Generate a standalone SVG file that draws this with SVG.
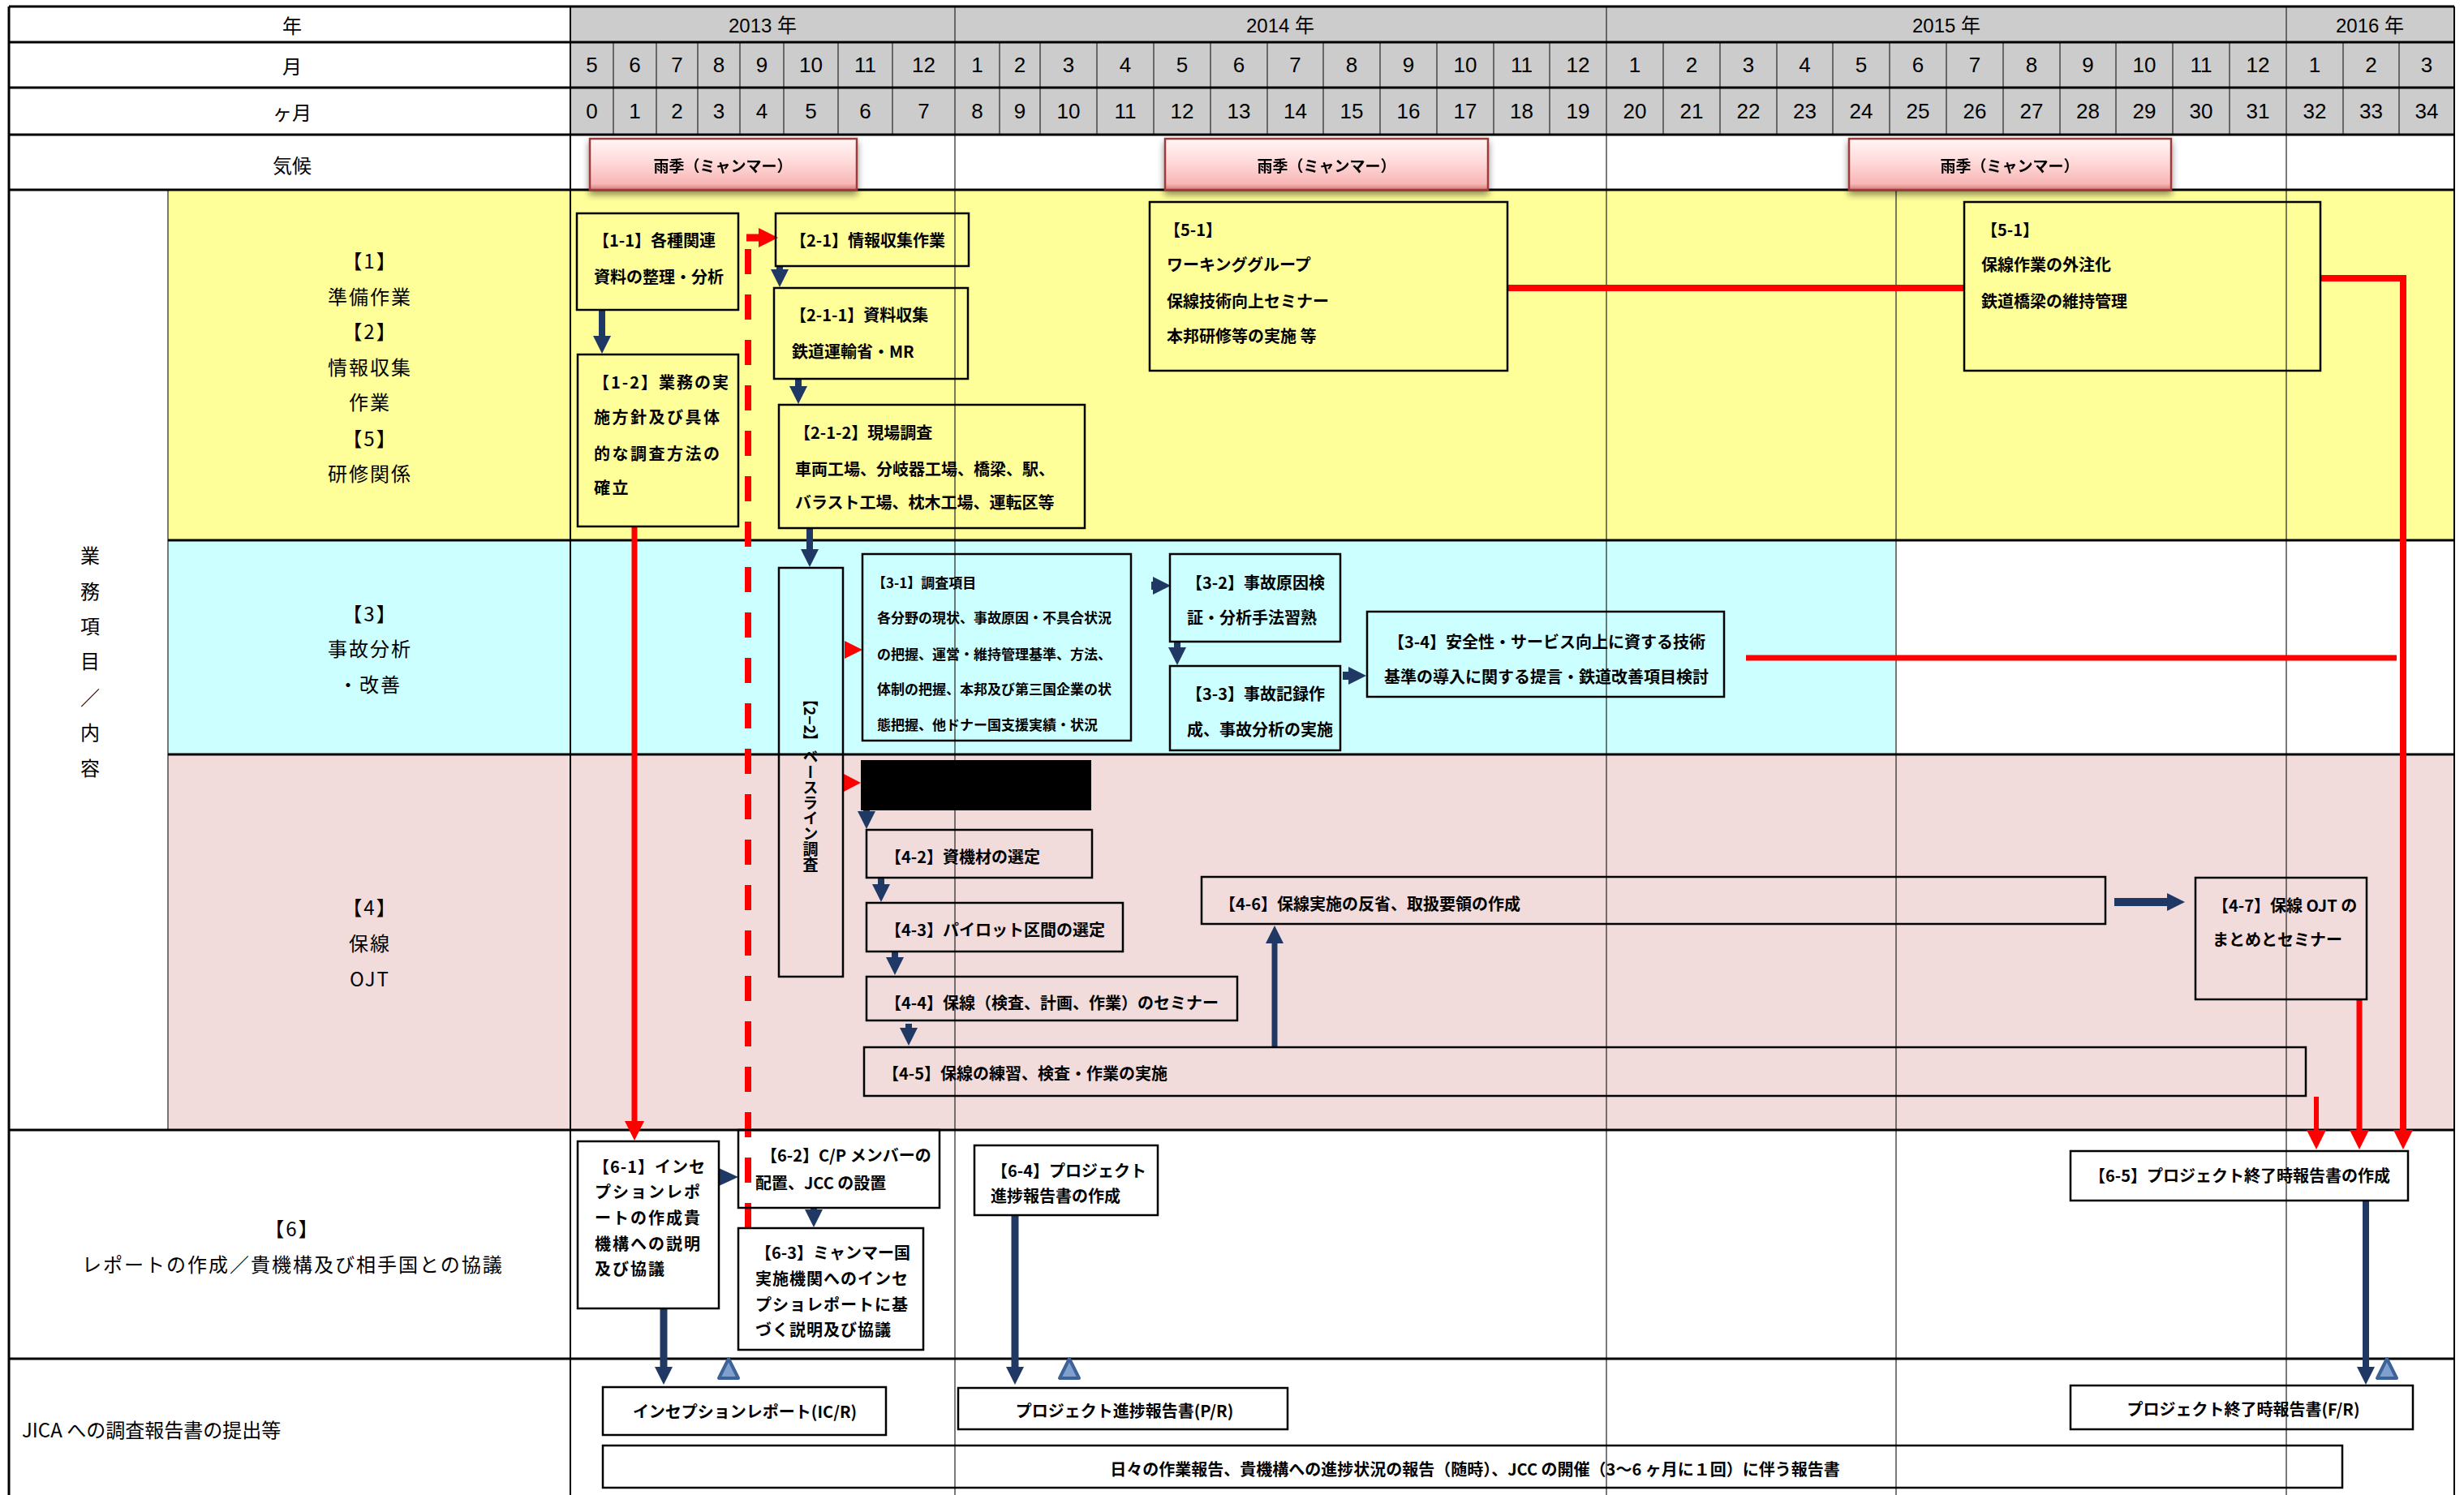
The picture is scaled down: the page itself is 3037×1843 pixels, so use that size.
<svg xmlns="http://www.w3.org/2000/svg" width="3037" height="1843" viewBox="0 0 3037 1843">
<style>
.j{font-family:"Noto Sans CJK JP","Noto Sans CJK SC",sans-serif;fill:#000}
.bt{font-size:20px;dominant-baseline:central;font-weight:600}
.st{font-size:17px;dominant-baseline:central;font-weight:600}
.lb{font-size:24px;text-anchor:middle;dominant-baseline:central;letter-spacing:2px}
.hd{font-size:24px;text-anchor:middle;dominant-baseline:central}
.num{font-family:"Liberation Sans","Noto Sans CJK JP",sans-serif;font-size:26px;text-anchor:middle;dominant-baseline:central;fill:#000}
.rt{font-size:19px;text-anchor:middle;dominant-baseline:central;font-weight:600}
.ct{font-size:20px;text-anchor:middle;dominant-baseline:central;font-weight:600}
.bx{fill:none;stroke:#000;stroke-width:2.5}
.thk{stroke:#000;stroke-width:3;fill:none}
.thn{stroke:#333;stroke-width:1.3;fill:none}
.nv{stroke:#1F3864;fill:none;marker-end:url(#an)}
.rd{stroke:#FF0000;fill:none}
.rain{fill:url(#rg);stroke:#9E3B3B;stroke-width:2.5}
.ms{fill:#7FA0CF;stroke:#3C6296;stroke-width:4;stroke-linejoin:round}
</style>
<defs>
<linearGradient id="rg" x1="0" y1="0" x2="0" y2="1">
<stop offset="0" stop-color="#FFF6F6"/><stop offset="0.45" stop-color="#FFDADA"/><stop offset="0.88" stop-color="#F8B6B6"/><stop offset="1" stop-color="#D47A7A"/>
</linearGradient>
<filter id="sh" x="-10%" y="-30%" width="120%" height="170%">
<feGaussianBlur in="SourceAlpha" stdDeviation="4"/><feOffset dy="5"/>
<feComponentTransfer><feFuncA type="linear" slope="0.45"/></feComponentTransfer>
<feMerge><feMergeNode/><feMergeNode in="SourceGraphic"/></feMerge>
</filter>
<marker id="an" viewBox="0 0 22 22" markerUnits="userSpaceOnUse" markerWidth="22" markerHeight="22" refX="1" refY="11" orient="auto"><path d="M0,0 L22,11 L0,22 z" fill="#1F3864"/></marker>
<marker id="ar" viewBox="0 0 24 24" markerUnits="userSpaceOnUse" markerWidth="24" markerHeight="24" refX="1" refY="12" orient="auto"><path d="M0,0 L24,12 L0,24 z" fill="#FF0000"/></marker>
</defs>

<g id="backgrounds">
<rect x="0" y="0" width="3037" height="1843" fill="#FFFFFF"/>
<rect x="703" y="8" width="2322" height="158" fill="#CCCCCC"/>
<rect x="207" y="234" width="2818" height="432" fill="#FFFF99"/>
<rect x="207" y="666" width="2130" height="264" fill="#CCFFFF"/>
<rect x="207" y="930" width="2818" height="463" fill="#F2DCDB"/>
</g>

<g id="grid">
<path class="thn" d="M756,52V166 M809,52V166 M860,52V166 M912,52V166 M966,52V166 M1033,52V166 M1100,52V166 M1232,52V166 M1282,52V166 M1352,52V166 M1422,52V166 M1492,52V166 M1562,52V166 M1631,52V166 M1701,52V166 M1771,52V166 M1841,52V166 M1910,52V166 M2050,52V166 M2120,52V166 M2190,52V166 M2259,52V166 M2329,52V166 M2399,52V166 M2469,52V166 M2539,52V166 M2608,52V166 M2678,52V166 M2748,52V166 M2888,52V166 M2957,52V166"/>
<path class="thn" d="M1177,8V1843 M1980,8V1843 M2818,8V1843 M2337,234V1843 M207,234V1393"/>
<path stroke="#000" stroke-width="2" fill="none" d="M703,8V1843 M3025,8V1843"/>
<path class="thk" d="M11,8V1843 M11,8H3025 M11,52H3025 M11,108H3025 M11,166H3025 M11,234H3025 M207,666H3025 M207,930H3025 M11,1393H3025 M11,1675H3025"/>
</g>

<g id="header-text">
<text class="j hd" x="360" y="30">年</text>
<text class="j hd" x="360" y="80">月</text>
<text class="j hd" x="360" y="137">ヶ月</text>
<text class="j hd" x="360" y="202">気候</text>
<text class="num" x="940" y="31" style="font-size:24px">2013 年</text>
<text class="num" x="1578" y="31" style="font-size:24px">2014 年</text>
<text class="num" x="2399" y="31" style="font-size:24px">2015 年</text>
<text class="num" x="2921" y="31" style="font-size:24px">2016 年</text>
<g id="months">
<text class="num" x="729.5" y="80">5</text><text class="num" x="782.5" y="80">6</text><text class="num" x="834.5" y="80">7</text><text class="num" x="886" y="80">8</text><text class="num" x="939" y="80">9</text><text class="num" x="999.5" y="80">10</text><text class="num" x="1066.5" y="80">11</text><text class="num" x="1138.5" y="80">12</text>
<text class="num" x="1204.5" y="80">1</text><text class="num" x="1257" y="80">2</text><text class="num" x="1317" y="80">3</text><text class="num" x="1387" y="80">4</text><text class="num" x="1457" y="80">5</text><text class="num" x="1527" y="80">6</text><text class="num" x="1596.5" y="80">7</text><text class="num" x="1666" y="80">8</text><text class="num" x="1736" y="80">9</text><text class="num" x="1806" y="80">10</text><text class="num" x="1875.5" y="80">11</text><text class="num" x="1945" y="80">12</text>
<text class="num" x="2015" y="80">1</text><text class="num" x="2085" y="80">2</text><text class="num" x="2155" y="80">3</text><text class="num" x="2224.5" y="80">4</text><text class="num" x="2294" y="80">5</text><text class="num" x="2364" y="80">6</text><text class="num" x="2434" y="80">7</text><text class="num" x="2504" y="80">8</text><text class="num" x="2573.5" y="80">9</text><text class="num" x="2643" y="80">10</text><text class="num" x="2713" y="80">11</text><text class="num" x="2783" y="80">12</text>
<text class="num" x="2853" y="80">1</text><text class="num" x="2922.5" y="80">2</text><text class="num" x="2991" y="80">3</text>
</g>
<g id="month-count">
<text class="num" x="729.5" y="137">0</text><text class="num" x="782.5" y="137">1</text><text class="num" x="834.5" y="137">2</text><text class="num" x="886" y="137">3</text><text class="num" x="939" y="137">4</text><text class="num" x="999.5" y="137">5</text><text class="num" x="1066.5" y="137">6</text><text class="num" x="1138.5" y="137">7</text>
<text class="num" x="1204.5" y="137">8</text><text class="num" x="1257" y="137">9</text><text class="num" x="1317" y="137">10</text><text class="num" x="1387" y="137">11</text><text class="num" x="1457" y="137">12</text><text class="num" x="1527" y="137">13</text><text class="num" x="1596.5" y="137">14</text><text class="num" x="1666" y="137">15</text><text class="num" x="1736" y="137">16</text><text class="num" x="1806" y="137">17</text><text class="num" x="1875.5" y="137">18</text><text class="num" x="1945" y="137">19</text>
<text class="num" x="2015" y="137">20</text><text class="num" x="2085" y="137">21</text><text class="num" x="2155" y="137">22</text><text class="num" x="2224.5" y="137">23</text><text class="num" x="2294" y="137">24</text><text class="num" x="2364" y="137">25</text><text class="num" x="2434" y="137">26</text><text class="num" x="2504" y="137">27</text><text class="num" x="2573.5" y="137">28</text><text class="num" x="2643" y="137">29</text><text class="num" x="2713" y="137">30</text><text class="num" x="2783" y="137">31</text>
<text class="num" x="2853" y="137">32</text><text class="num" x="2922.5" y="137">33</text><text class="num" x="2991" y="137">34</text>
</g>
</g>

<g id="row-labels">
<text class="j lb" x="456" y="320">【1】</text>
<text class="j lb" x="456" y="364">準備作業</text>
<text class="j lb" x="456" y="407">【2】</text>
<text class="j lb" x="456" y="451">情報収集</text>
<text class="j lb" x="456" y="494">作業</text>
<text class="j lb" x="456" y="539">【5】</text>
<text class="j lb" x="456" y="582">研修関係</text>
<text class="j lb" x="112" y="683">業</text>
<text class="j lb" x="112" y="727">務</text>
<text class="j lb" x="112" y="770">項</text>
<text class="j lb" x="112" y="813">目</text>
<text class="j lb" x="112" y="858">／</text>
<text class="j lb" x="112" y="901">内</text>
<text class="j lb" x="112" y="945">容</text>
<text class="j lb" x="456" y="755">【3】</text>
<text class="j lb" x="456" y="798">事故分析</text>
<text class="j lb" x="456" y="842">・改善</text>
<text class="j lb" x="456" y="1117">【4】</text>
<text class="j lb" x="456" y="1161">保線</text>
<text class="j lb" x="456" y="1205">OJT</text>
<text class="j lb" x="360" y="1513">【6】</text>
<text class="j lb" x="361" y="1557">レポートの作成／貴機構及び相手国との協議</text>
<text class="j" x="27" y="1761" style="font-size:24px;dominant-baseline:central">JICA への調査報告書の提出等</text>
</g>

<g id="rain-seasons">
<g id="rain1" filter="url(#sh)"><rect class="rain" x="727" y="171" width="329" height="63"/><text class="j rt" x="891" y="203">雨季（ミャンマー）</text></g>
<g id="rain2" filter="url(#sh)"><rect class="rain" x="1436" y="171" width="398" height="63"/><text class="j rt" x="1635" y="203">雨季（ミャンマー）</text></g>
<g id="rain3" filter="url(#sh)"><rect class="rain" x="2279" y="171" width="397" height="63"/><text class="j rt" x="2477" y="203">雨季（ミャンマー）</text></g>
</g>

<g id="connectors">
<path class="nv" stroke-width="8" d="M742,382V415"/>
<path class="nv" stroke-width="8" d="M961,328V333"/>
<path class="nv" stroke-width="8" d="M984,467V477"/>
<path class="nv" stroke-width="8" d="M998,651V678"/>
<path class="nv" stroke-width="10" d="M1419,722H1422"/>
<path class="nv" stroke-width="8" d="M1451,791V799"/>
<path class="nv" stroke-width="10" d="M1655,833H1663"/>
<path class="nv" stroke-width="8" d="M1068,998V1001"/>
<path class="nv" stroke-width="8" d="M1086,1083V1091"/>
<path class="nv" stroke-width="8" d="M1103,1173V1181"/>
<path class="nv" stroke-width="8" d="M1120,1262V1268"/>
<path class="nv" stroke-width="7" d="M1571,1290V1162"/>
<path class="nv" stroke-width="10" d="M2606,1112H2672"/>
<polygon points="886,1440 910,1451 886,1462" fill="#1F3864"/>
<path class="nv" stroke-width="8" d="M1003,1488V1492"/>
<path class="nv" stroke-width="9" d="M818,1613V1686"/>
<path class="nv" stroke-width="9" d="M1251,1498V1686"/>
<path class="nv" stroke-width="8" d="M2916,1480V1686"/>
<path class="rd" stroke-width="7" marker-end="url(#ar)" d="M782,649V1383"/>
<path class="rd" stroke-width="8" stroke-dasharray="31 25" d="M922,307V1514"/>
<path class="rd" stroke-width="9" marker-end="url(#ar)" d="M920,293H936"/>
<polygon points="1041,790 1063,801 1041,812" fill="#FF0000"/>
<polygon points="1038,953 1061,965 1038,977" fill="#FF0000"/>
<path class="rd" stroke-width="7" d="M2152,811H2954"/>
<path class="rd" stroke-width="8" d="M1858,355H2421"/>
<path class="rd" stroke-width="8" marker-end="url(#ar)" d="M2860,343H2962V1394"/>
<path class="rd" stroke-width="7" marker-end="url(#ar)" d="M2908,1232V1394"/>
<path class="rd" stroke-width="6" marker-end="url(#ar)" d="M2855,1352V1394"/>
<polygon class="ms" points="898,1675 886,1699 910,1699"/>
<polygon class="ms" points="1318,1675 1306,1699 1330,1699"/>
<polygon class="ms" points="2942,1675 2930,1699 2954,1699"/>
</g>

<g id="n1-1"><rect class="bx" x="711" y="263" width="199" height="119"/>
<text class="j bt" x="731" y="295">【1-1】各種関連</text><text class="j bt" x="732" y="340">資料の整理・分析</text></g>
<g id="n1-2"><rect class="bx" x="712" y="437" width="198" height="212"/>
<text class="j bt" x="731" y="470" letter-spacing="2">【1-2】業務の実</text><text class="j bt" x="732" y="513" letter-spacing="2.5">施方針及び具体</text><text class="j bt" x="732" y="558" letter-spacing="2.5">的な調査方法の</text><text class="j bt" x="732" y="600" letter-spacing="2.5">確立</text></g>
<g id="n2-1"><rect class="bx" x="956" y="263" width="238" height="65"/>
<text class="j bt" x="974" y="295">【2-1】情報収集作業</text></g>
<g id="n2-1-1"><rect class="bx" x="954" y="355" width="239" height="112"/>
<text class="j bt" x="974" y="387">【2-1-1】資料収集</text><text class="j bt" x="976" y="432">鉄道運輸省・MR</text></g>
<g id="n2-1-2"><rect class="bx" x="960" y="499" width="377" height="152"/>
<text class="j bt" x="979" y="532">【2-1-2】現場調査</text><text class="j bt" x="980" y="577">車両工場、分岐器工場、橋梁、駅、</text><text class="j bt" x="980" y="618">バラスト工場、枕木工場、運転区等</text></g>
<g id="n2-2"><rect class="bx" x="960" y="700" width="79" height="504"/>
<text class="j" x="999" y="852" style="font-size:19px;font-weight:600;writing-mode:vertical-rl">【2−2】ベースライン調査</text></g>
<g id="n3-1"><rect class="bx" x="1063" y="683" width="331" height="230"/>
<text class="j st" x="1075" y="717">【3-1】調査項目</text><text class="j st" x="1081" y="760">各分野の現状、事故原因・不具合状況</text><text class="j st" x="1081" y="805">の把握、運営・維持管理基準、方法、</text><text class="j st" x="1081" y="848">体制の把握、本邦及び第三国企業の状</text><text class="j st" x="1081" y="892">態把握、他ドナー国支援実績・状況</text></g>
<g id="n3-2"><rect class="bx" x="1442" y="683" width="210" height="108"/>
<text class="j bt" x="1462" y="717">【3-2】事故原因検</text><text class="j bt" x="1463" y="760">証・分析手法習熟</text></g>
<g id="n3-3"><rect class="bx" x="1442" y="821" width="210" height="104"/>
<text class="j bt" x="1462" y="854">【3-3】事故記録作</text><text class="j bt" x="1463" y="898">成、事故分析の実施</text></g>
<g id="n3-4"><rect class="bx" x="1685" y="754" width="440" height="105"/>
<text class="j bt" x="1711" y="790">【3-4】安全性・サービス向上に資する技術</text><text class="j bt" x="1706" y="833">基準の導入に関する提言・鉄道改善項目検討</text></g>
<g id="n5-1a"><rect class="bx" x="1417" y="249" width="441" height="208"/>
<text class="j bt" x="1435" y="282">【5-1】</text><text class="j bt" x="1438" y="325">ワーキンググループ</text><text class="j bt" x="1438" y="370">保線技術向上セミナー</text><text class="j bt" x="1438" y="413">本邦研修等の実施 等</text></g>
<g id="n5-1b"><rect class="bx" x="2421" y="249" width="439" height="208"/>
<text class="j bt" x="2442" y="282">【5-1】</text><text class="j bt" x="2442" y="325">保線作業の外注化</text><text class="j bt" x="2442" y="370">鉄道橋梁の維持管理</text></g>
<g id="n4-1"><rect x="1062" y="938" width="282" height="60" fill="#000" stroke="#000" stroke-width="2"/></g>
<g id="n4-2"><rect class="bx" x="1068" y="1023" width="278" height="59"/>
<text class="j bt" x="1091" y="1055">【4-2】資機材の選定</text></g>
<g id="n4-3"><rect class="bx" x="1068" y="1113" width="316" height="60"/>
<text class="j bt" x="1091" y="1145">【4-3】パイロット区間の選定</text></g>
<g id="n4-4"><rect class="bx" x="1068" y="1204" width="457" height="54"/>
<text class="j bt" x="1091" y="1235">【4-4】保線（検査、計画、作業）のセミナー</text></g>
<g id="n4-5"><rect class="bx" x="1065" y="1291" width="1777" height="60"/>
<text class="j bt" x="1088" y="1322">【4-5】保線の練習、検査・作業の実施</text></g>
<g id="n4-6"><rect class="bx" x="1481" y="1081" width="1114" height="58"/>
<text class="j bt" x="1503" y="1113">【4-6】保線実施の反省、取扱要領の作成</text></g>
<g id="n4-7"><rect class="bx" x="2706" y="1082" width="211" height="150"/>
<text class="j bt" x="2727" y="1115">【4-7】保線 OJT の</text><text class="j bt" x="2727" y="1157">まとめとセミナー</text></g>
<g id="n6-1"><rect class="bx" x="712" y="1407" width="174" height="206"/>
<text class="j bt" x="731" y="1437" letter-spacing="1">【6-1】インセ</text><text class="j bt" x="733" y="1468" letter-spacing="2">プションレポ</text><text class="j bt" x="733" y="1500" letter-spacing="2">ートの作成貴</text><text class="j bt" x="733" y="1532" letter-spacing="2">機構への説明</text><text class="j bt" x="733" y="1563" letter-spacing="2">及び協議</text></g>
<g id="n6-2"><rect class="bx" x="910" y="1393" width="248" height="96"/>
<text class="j bt" x="938" y="1423">【6-2】C/P メンバーの</text><text class="j bt" x="931" y="1457">配置、JCC の設置</text></g>
<g id="n6-3"><rect class="bx" x="910" y="1514" width="228" height="150"/>
<text class="j bt" x="931" y="1543">【6-3】ミャンマー国</text><text class="j bt" x="931" y="1575" letter-spacing="1">実施機関へのインセ</text><text class="j bt" x="931" y="1607" letter-spacing="1">プショレポートに基</text><text class="j bt" x="931" y="1638" letter-spacing="1">づく説明及び協議</text></g>
<g id="n6-4"><rect class="bx" x="1201" y="1412" width="226" height="86"/>
<text class="j bt" x="1222" y="1442">【6-4】プロジェクト</text><text class="j bt" x="1221" y="1473">進捗報告書の作成</text></g>
<g id="n6-5"><rect class="bx" x="2552" y="1419" width="416" height="61"/>
<text class="j bt" x="2575" y="1448">【6-5】プロジェクト終了時報告書の作成</text></g>
<g id="n-icr"><rect class="bx" x="743" y="1710" width="349" height="59"/>
<text class="j ct" x="918" y="1739">インセプションレポート(IC/R)</text></g>
<g id="n-pr"><rect class="bx" x="1181" y="1711" width="406" height="51"/>
<text class="j ct" x="1386" y="1738">プロジェクト進捗報告書(P/R)</text></g>
<g id="n-fr"><rect class="bx" x="2552" y="1708" width="422" height="54"/>
<text class="j ct" x="2765" y="1736">プロジェクト終了時報告書(F/R)</text></g>
<g id="n-daily"><rect class="bx" x="743" y="1782" width="2144" height="52"/>
<text class="j ct" x="1818" y="1810">日々の作業報告、貴機構への進捗状況の報告（随時）、JCC の開催（3～6 ヶ月に１回）に伴う報告書</text></g>
</svg>
